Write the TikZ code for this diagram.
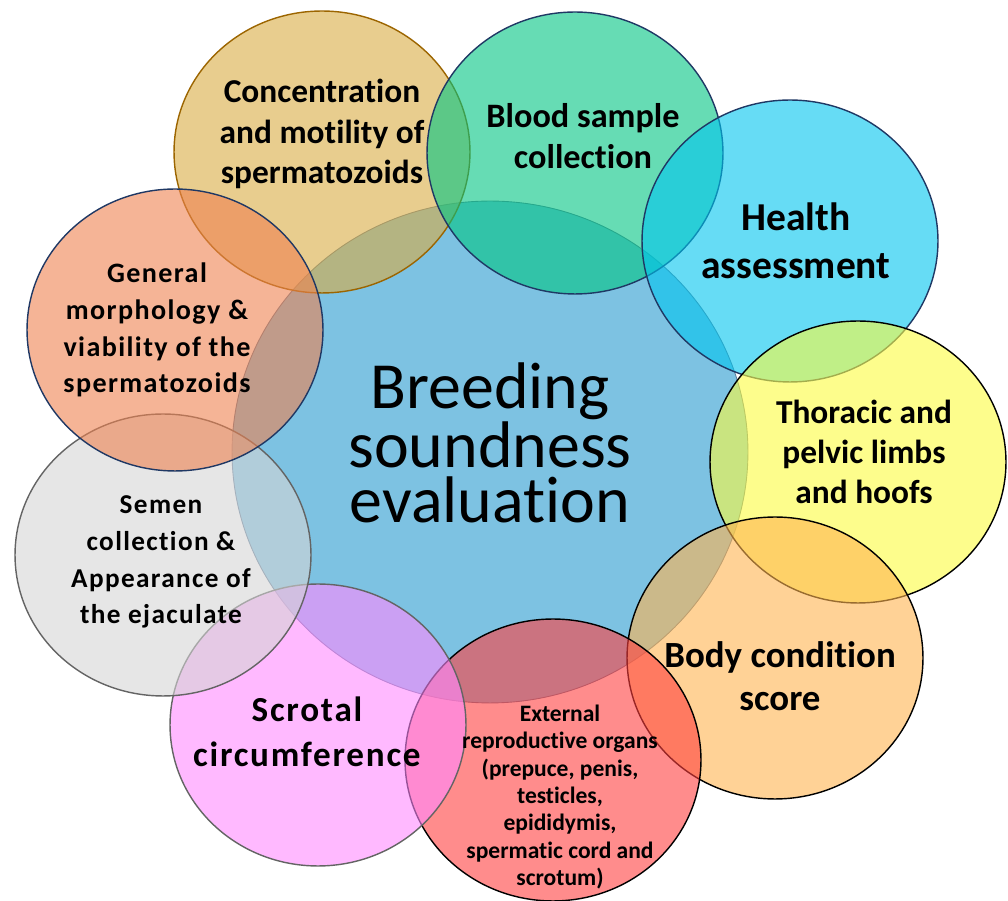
\documentclass[tikz,border=0pt]{standalone}
\usepackage{fontspec}
\setmainfont{Carlito}[Ligatures=NoCommon]
\usetikzlibrary{shapes.geometric}
\definecolor{hubblue}{RGB}{125,194,226}
\definecolor{hubline}{RGB}{95,125,155}
\definecolor{goldfill}{RGB}{217,172,67}
\definecolor{tealfill}{RGB}{0,197,130}
\definecolor{cyanfill}{RGB}{0,197,238}
\definecolor{yellowfill}{RGB}{252,252,63}
\definecolor{orangefill}{RGB}{255,180,80}
\definecolor{redfill}{RGB}{255,63,63}
\definecolor{pinkfill}{RGB}{255,138,255}
\definecolor{greyfill}{RGB}{213,213,213}
\definecolor{salmonfill}{RGB}{238,130,80}
\definecolor{navyline}{RGB}{31,56,100}
\definecolor{goldline}{RGB}{156,101,0}
\definecolor{greyline}{RGB}{100,100,100}

\begin{document}
\begin{tikzpicture}[x=0.02cm,y=-0.02cm,
    hub/.style={ellipse,draw=hubline,line width=0.5pt,fill=hubblue,inner sep=0pt,
      minimum width=10.32cm,minimum height=10.04cm},
    bubble/.style={ellipse,line width=0.8pt,inner sep=0pt,fill opacity=0.6,
      minimum width=5.92cm,minimum height=5.64cm},
    bubtext/.style={align=center,text=black,inner sep=0pt}]
  \useasboundingbox (0,0) rectangle (1008,901);

  % centre
  \node[hub] (bse) at (490,452) {};

  % ring, clockwise from top left
  \node[bubble,draw=goldline,fill=goldfill] (conc) at (322,152) {};
  \node[bubble,draw=navyline,fill=tealfill] (blood) at (575,153) {};
  \node[bubble,draw=navyline,fill=cyanfill] (health) at (790,241) {};
  \node[bubble,draw=black,fill=yellowfill] (limbs) at (858,462) {};
  \node[bubble,draw=black,fill=orangefill] (body) at (775,658) {};
  \node[bubble,draw=black,fill=redfill] (organs) at (553,760) {};
  \node[bubble,draw=greyline,fill=pinkfill] (scrotal) at (318,725) {};
  \node[bubble,draw=greyline,fill=greyfill] (semen) at (163,555) {};
  \node[bubble,draw=navyline,fill=salmonfill] (morph) at (175,330) {};

  % texts
  \node[bubtext,font={\fontsize{37.5}{31.5}\selectfont}] (bse-t) at (490,443)
    {Breeding\\soundness\\evaluation};
  \node[bubtext,font={\bfseries\fontsize{19}{23}\selectfont}] (conc-t) at (322,134)
    {Concentration\\and motility of\\spermatozoids};
  \node[bubtext,font={\bfseries\fontsize{19.5}{23.5}\selectfont}] (blood-t) at (583,136)
    {Blood sample\\collection};
  \node[bubtext,font={\bfseries\fontsize{22.5}{27}\selectfont}] (health-t) at (796,241)
    {Health\\assessment};
  \node[bubtext,font={\bfseries\fontsize{19}{23}\selectfont}] (limbs-t) at (864,452)
    {Thoracic and\\pelvic limbs\\and hoofs};
  \node[bubtext,font={\bfseries\fontsize{21}{24.5}\selectfont}] (body-t) at (780,676)
    {Body condition\\score};
  \node[bubtext,font={\bfseries\fontsize{13.4}{15.6}\selectfont}] (organs-t) at (560,797)
    {External\\reproductive organs\\(prepuce, penis,\\testicles,\\epididymis,\\spermatic cord and\\scrotum)};
  \node[bubtext,font={\bfseries\fontsize{20}{25.5}\selectfont\addfontfeatures{LetterSpace=5}}] (scrotal-t) at (307,732)
    {Scrotal\\circumference};
  \node[bubtext,font={\bfseries\fontsize{15.5}{21}\selectfont\addfontfeatures{LetterSpace=5}}] (semen-t) at (161,562)
    {Semen\\collection \&\\Appearance of\\the ejaculate};
  \node[bubtext,font={\bfseries\fontsize{16}{21}\selectfont\addfontfeatures{LetterSpace=5}}] (morph-t) at (157,330)
    {General\\morphology \&\\viability of the\\spermatozoids};
\end{tikzpicture}
\end{document}
